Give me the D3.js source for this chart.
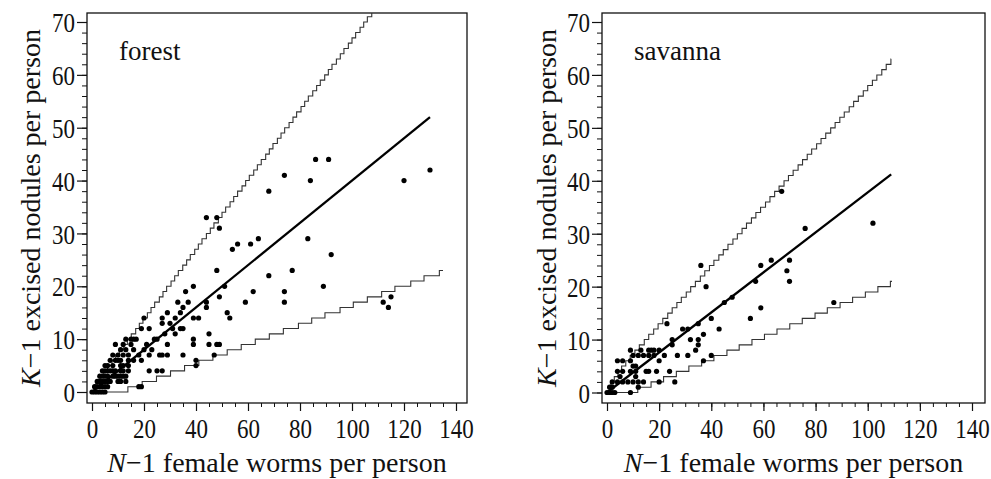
<!DOCTYPE html>
<html>
<head>
<meta charset="utf-8">
<script src="https://cdn.jsdelivr.net/npm/d3@7"></script>
<style>
  body { margin: 0; background: #fff; }
  svg { display: block; font-family: "Liberation Serif", "Times New Roman", serif; }
</style>
</head>
<body>
<svg id="chart" width="991" height="479"></svg>
<script>
// axis ticks
const xTicks = [0, 20, 40, 60, 80, 100, 120, 140];
const xMinor = [0, 5, 10, 15, 20, 25, 30, 35, 40, 45, 50, 55, 60, 65, 70, 75, 80, 85, 90, 95, 100, 105, 110, 115, 120, 125, 130, 135, 140];
const yTicks = [0, 10, 20, 30, 40, 50, 60, 70];
const yMinor = [0, 2, 4, 6, 8, 10, 12, 14, 16, 18, 20, 22, 24, 26, 28, 30, 32, 34, 36, 38, 40, 42, 44, 46, 48, 50, 52, 54, 56, 58, 60, 62, 64, 66, 68, 70];

// forest: [N-1, K-1] per person
const forestPoints = [
  [0,0],[1,0],[2,0],[3,0],[4,0],[5,0],
  [1,1],[2,1],[3,1],[4,1],[5,1],[6,1],[18,1],[19,1],
  [2,2],[3,2],[4,2],[5,2],[6,2],[7,2],[10,2],[11,2],[13,2],
  [3,3],[4,3],[5,3],[6,3],[8,3],[9,3],[10,3],[11,3],[12,3],[13,3],
  [4,4],[5,4],[6,4],[7,4],[8,4],[9,4],[11,4],[12,4],[14,4],[22,4],[25,4],[27,4],
  [5,5],[6,5],[8,5],[11,5],[12,5],[14,5],[40,5],
  [7,6],[9,6],[10,6],[11,6],[14,6],[16,6],[19,6],[40,6],
  [8,7],[10,7],[12,7],[14,7],[18,7],[22,7],[26,7],[27,7],[29,7],[35,7],[47,7],
  [11,8],[13,8],[16,8],[20,8],[23,8],
  [9,9],[12,9],[15,9],[21,9],[29,9],[39,9],[45,9],[48,9],[49,9],
  [13,10],[15,10],[16,10],[17,10],[24,10],[25,10],[39,10],
  [28,11],[32,11],[45,11],
  [19,12],[22,12],[31,12],[34,12],[35,12],
  [27,13],[30,13],
  [20,14],[27,14],[32,14],[39,14],[41,14],[53,14],
  [29,15],[34,15],[52,15],
  [35,16],[44,16],[114,16],
  [33,17],[37,17],[44,17],[59,17],[74,17],[112,17],
  [49,18],[115,18],
  [36,19],[62,19],[74,19],
  [39,20],[51,20],[89,20],
  [68,22],
  [48,23],[77,23],
  [92,26],
  [54,27],
  [56,28],[61,28],
  [64,29],[83,29],
  [49,31],
  [44,33],[48,33],
  [68,38],
  [84,40],[120,40],
  [74,41],
  [130,42],
  [86,44],[91,44]
];
const forestFit = [[0, 0], [130, 52]];
// x where the band steps up by one nodule
const forestUpperSteps = [1.5, 3.1, 4.5, 6.0, 7.7, 9.1, 10.5, 12.2, 13.6, 15.1, 16.8, 18.2, 19.6, 21.3, 22.7, 24.1, 25.9, 27.3, 28.7, 30.4, 31.8, 33.2, 34.9, 36.4, 37.8, 39.5, 40.9, 42.3, 44.0, 45.5, 46.9, 48.6, 50.0, 51.4, 53.1, 54.5, 56.0, 57.7, 59.1, 60.5, 62.2, 63.6, 65.1, 66.8, 68.2, 69.6, 71.3, 72.7, 74.1, 75.8, 77.3, 78.7, 80.4, 81.8, 83.2, 84.9, 86.4, 87.8, 89.5, 90.9, 92.3, 94.0, 95.5, 96.9, 98.6, 100.0, 101.4, 103.1, 104.5, 105.9, 107.6];
const forestLowerSteps = [13.8, 19.3, 24.8, 30.2, 35.6, 41.1, 46.5, 52.0, 57.4, 62.8, 68.2, 73.6, 79.4, 84.5, 89.6, 95.4, 100.5, 105.9, 111.4, 116.5, 122.6, 127.7, 133.6];

// savanna
const savannaPoints = [
  [0,0],[1,0],[2,0],[3,0],[9,0],
  [1,1],[2,1],[12,1],
  [2,2],[4,2],[6,2],[8,2],[10,2],[12,2],[14,2],[20,2],[26,2],
  [5,3],[11,3],
  [4,4],[6,4],[9,4],[11,4],[15,4],[16,4],[19,4],[24,4],
  [10,5],[11,5],
  [4,6],[6,6],[9,6],[20,6],[37,6],
  [10,7],[12,7],[14,7],[16,7],[18,7],[22,7],[27,7],[31,7],[40,7],
  [9,8],[13,8],[16,8],[17,8],[18,8],[20,8],[34,8],
  [25,9],[35,9],
  [25,10],[32,10],[35,10],
  [37,11],
  [29,12],[31,12],[43,12],
  [23,13],[35,13],
  [40,14],[55,14],
  [59,16],
  [45,17],[87,17],
  [48,18],
  [38,20],
  [57,21],[70,21],
  [69,23],
  [36,24],[59,24],
  [63,25],[70,25],
  [76,31],
  [102,32],
  [67,38]
];
const savannaFit = [[0, 0], [109, 41.2]];
const savannaUpperSteps = [1.5, 2.8, 4.2, 5.6, 7.2, 8.9, 10.7, 12.4, 14.3, 16.0, 17.9, 19.6, 21.4, 23.3, 25.0, 26.8, 28.5, 30.4, 32.1, 33.9, 35.8, 37.5, 39.3, 41.0, 42.9, 44.6, 46.4, 48.3, 50.0, 51.8, 53.5, 55.4, 57.1, 58.9, 60.8, 62.5, 64.3, 66.0, 67.9, 69.6, 71.4, 73.3, 75.0, 76.8, 78.5, 80.4, 82.1, 83.9, 85.8, 87.5, 89.3, 91.0, 92.9, 94.6, 96.4, 98.3, 100.0, 101.8, 103.5, 105.4, 107.1, 108.9];
const savannaLowerSteps = [11.8, 16.9, 21.7, 26.6, 31.4, 36.3, 41.0, 46.0, 50.7, 55.6, 60.4, 65.2, 70.1, 74.9, 79.8, 84.5, 89.4, 94.2, 99.1, 103.9, 108.7];

const svg = d3.select("#chart");

function bandPoints(steps, startLevel, endX) {
  const pts = [[0, startLevel]];
  steps.forEach((sx, i) => pts.push([sx, startLevel + i + 1]));
  pts.push([endX, startLevel + steps.length]);
  return pts;
}

function drawPanel(p) {
  const x = d3.scaleLinear().domain([0, 140]).range(p.xr);
  const y = d3.scaleLinear().domain([0, 70]).range(p.yr);
  const g = svg.append("g");

  const clipId = "clip-" + p.name;
  svg.append("clipPath").attr("id", clipId).append("rect")
    .attr("x", p.frame[0]).attr("y", p.frame[2])
    .attr("width", p.frame[1] - p.frame[0]).attr("height", p.frame[3] - p.frame[2]);

  // frame
  g.append("rect")
    .attr("x", p.frame[0]).attr("y", p.frame[2])
    .attr("width", p.frame[1] - p.frame[0]).attr("height", p.frame[3] - p.frame[2])
    .attr("fill", "none").attr("stroke", "#111").attr("stroke-width", 1.3);

  // x axis
  g.append("g").attr("transform", `translate(0,${p.frame[3]})`)
    .call(d3.axisBottom(x).tickValues(xMinor).tickSize(4).tickFormat(""))
    .call(ax => { ax.select(".domain").remove(); ax.selectAll("line").attr("stroke", "#111"); });
  g.append("g").attr("transform", `translate(0,${p.frame[3]})`)
    .call(d3.axisBottom(x).tickValues(xTicks).tickSize(8))
    .call(ax => {
      ax.select(".domain").remove();
      ax.selectAll("line").attr("stroke", "#111").attr("stroke-width", 1.2);
      ax.selectAll(".tick text").attr("y", 0).attr("dy", 0)
        .attr("transform", "translate(0,35) scale(1,1.2)")
        .style("font-family", "Liberation Serif, serif").style("font-size", "23px").style("fill", "#111");
    });

  // y axis
  g.append("g").attr("transform", `translate(${p.frame[0]},0)`)
    .call(d3.axisLeft(y).tickValues(yMinor).tickSize(5).tickFormat(""))
    .call(ax => { ax.select(".domain").remove(); ax.selectAll("line").attr("stroke", "#111"); });
  g.append("g").attr("transform", `translate(${p.frame[0]},0)`)
    .call(d3.axisLeft(y).tickValues(yTicks).tickSize(10).tickPadding(2))
    .call(ax => {
      ax.select(".domain").remove();
      ax.selectAll("line").attr("stroke", "#111").attr("stroke-width", 1.2);
      ax.selectAll(".tick text").attr("dy", "0.35em")
        .attr("transform", "scale(1,1.2)")
        .style("font-family", "Liberation Serif, serif").style("font-size", "23px").style("fill", "#111");
    });

  // prediction bands
  const step = d3.line().x(d => x(d[0])).y(d => y(d[1])).curve(d3.curveStepAfter);
  const bands = g.append("g").attr("clip-path", `url(#${clipId})`);
  bands.append("path").datum(bandPoints(p.upper, 1, p.upperEnd))
    .attr("fill", "none").attr("stroke", "#333").attr("stroke-width", 1.1).attr("d", step);
  bands.append("path").datum(bandPoints(p.lower, 0, p.lowerEnd))
    .attr("fill", "none").attr("stroke", "#333").attr("stroke-width", 1.1).attr("d", step);

  // points
  g.append("g").selectAll("circle").data(p.points).join("circle")
    .attr("cx", d => x(d[0])).attr("cy", d => y(d[1])).attr("r", 2.6).attr("fill", "#000");

  // fitted line
  g.append("path").datum(p.fit)
    .attr("fill", "none").attr("stroke", "#000").attr("stroke-width", 2.3)
    .attr("d", d3.line().x(d => x(d[0])).y(d => y(d[1])));

  // panel label
  g.append("text").attr("x", p.labelX).attr("y", 60)
    .style("font-size", "27px").style("fill", "#111").text(p.name);

  // axis titles
  const xt = g.append("text").attr("x", (p.frame[0] + p.frame[1]) / 2).attr("y", 472)
    .attr("text-anchor", "middle").style("font-size", "28px").style("fill", "#111");
  xt.append("tspan").style("font-style", "italic").text("N");
  xt.append("tspan").text("\u22121 female worms per person");

  const yt = g.append("text")
    .attr("transform", `translate(${p.yTitleX},${(p.frame[2] + p.frame[3]) / 2}) rotate(-90)`)
    .attr("text-anchor", "middle").style("font-size", "28px").style("fill", "#111");
  yt.append("tspan").style("font-style", "italic").text("K");
  yt.append("tspan").text("\u22121 excised nodules per person");
}

drawPanel({
  name: "forest", points: forestPoints, fit: forestFit,
  upper: forestUpperSteps, upperEnd: 110, lower: forestLowerSteps, lowerEnd: 135,
  xr: [92, 456], yr: [392, 22], frame: [87, 467, 13, 403], labelX: 119, yTitleX: 40
});
drawPanel({
  name: "savanna", points: savannaPoints, fit: savannaFit,
  upper: savannaUpperSteps, upperEnd: 109, lower: savannaLowerSteps, lowerEnd: 109.3,
  xr: [607, 972], yr: [392.5, 22], frame: [602, 985, 13, 403], labelX: 634, yTitleX: 556
});
</script>
</body>
</html>
